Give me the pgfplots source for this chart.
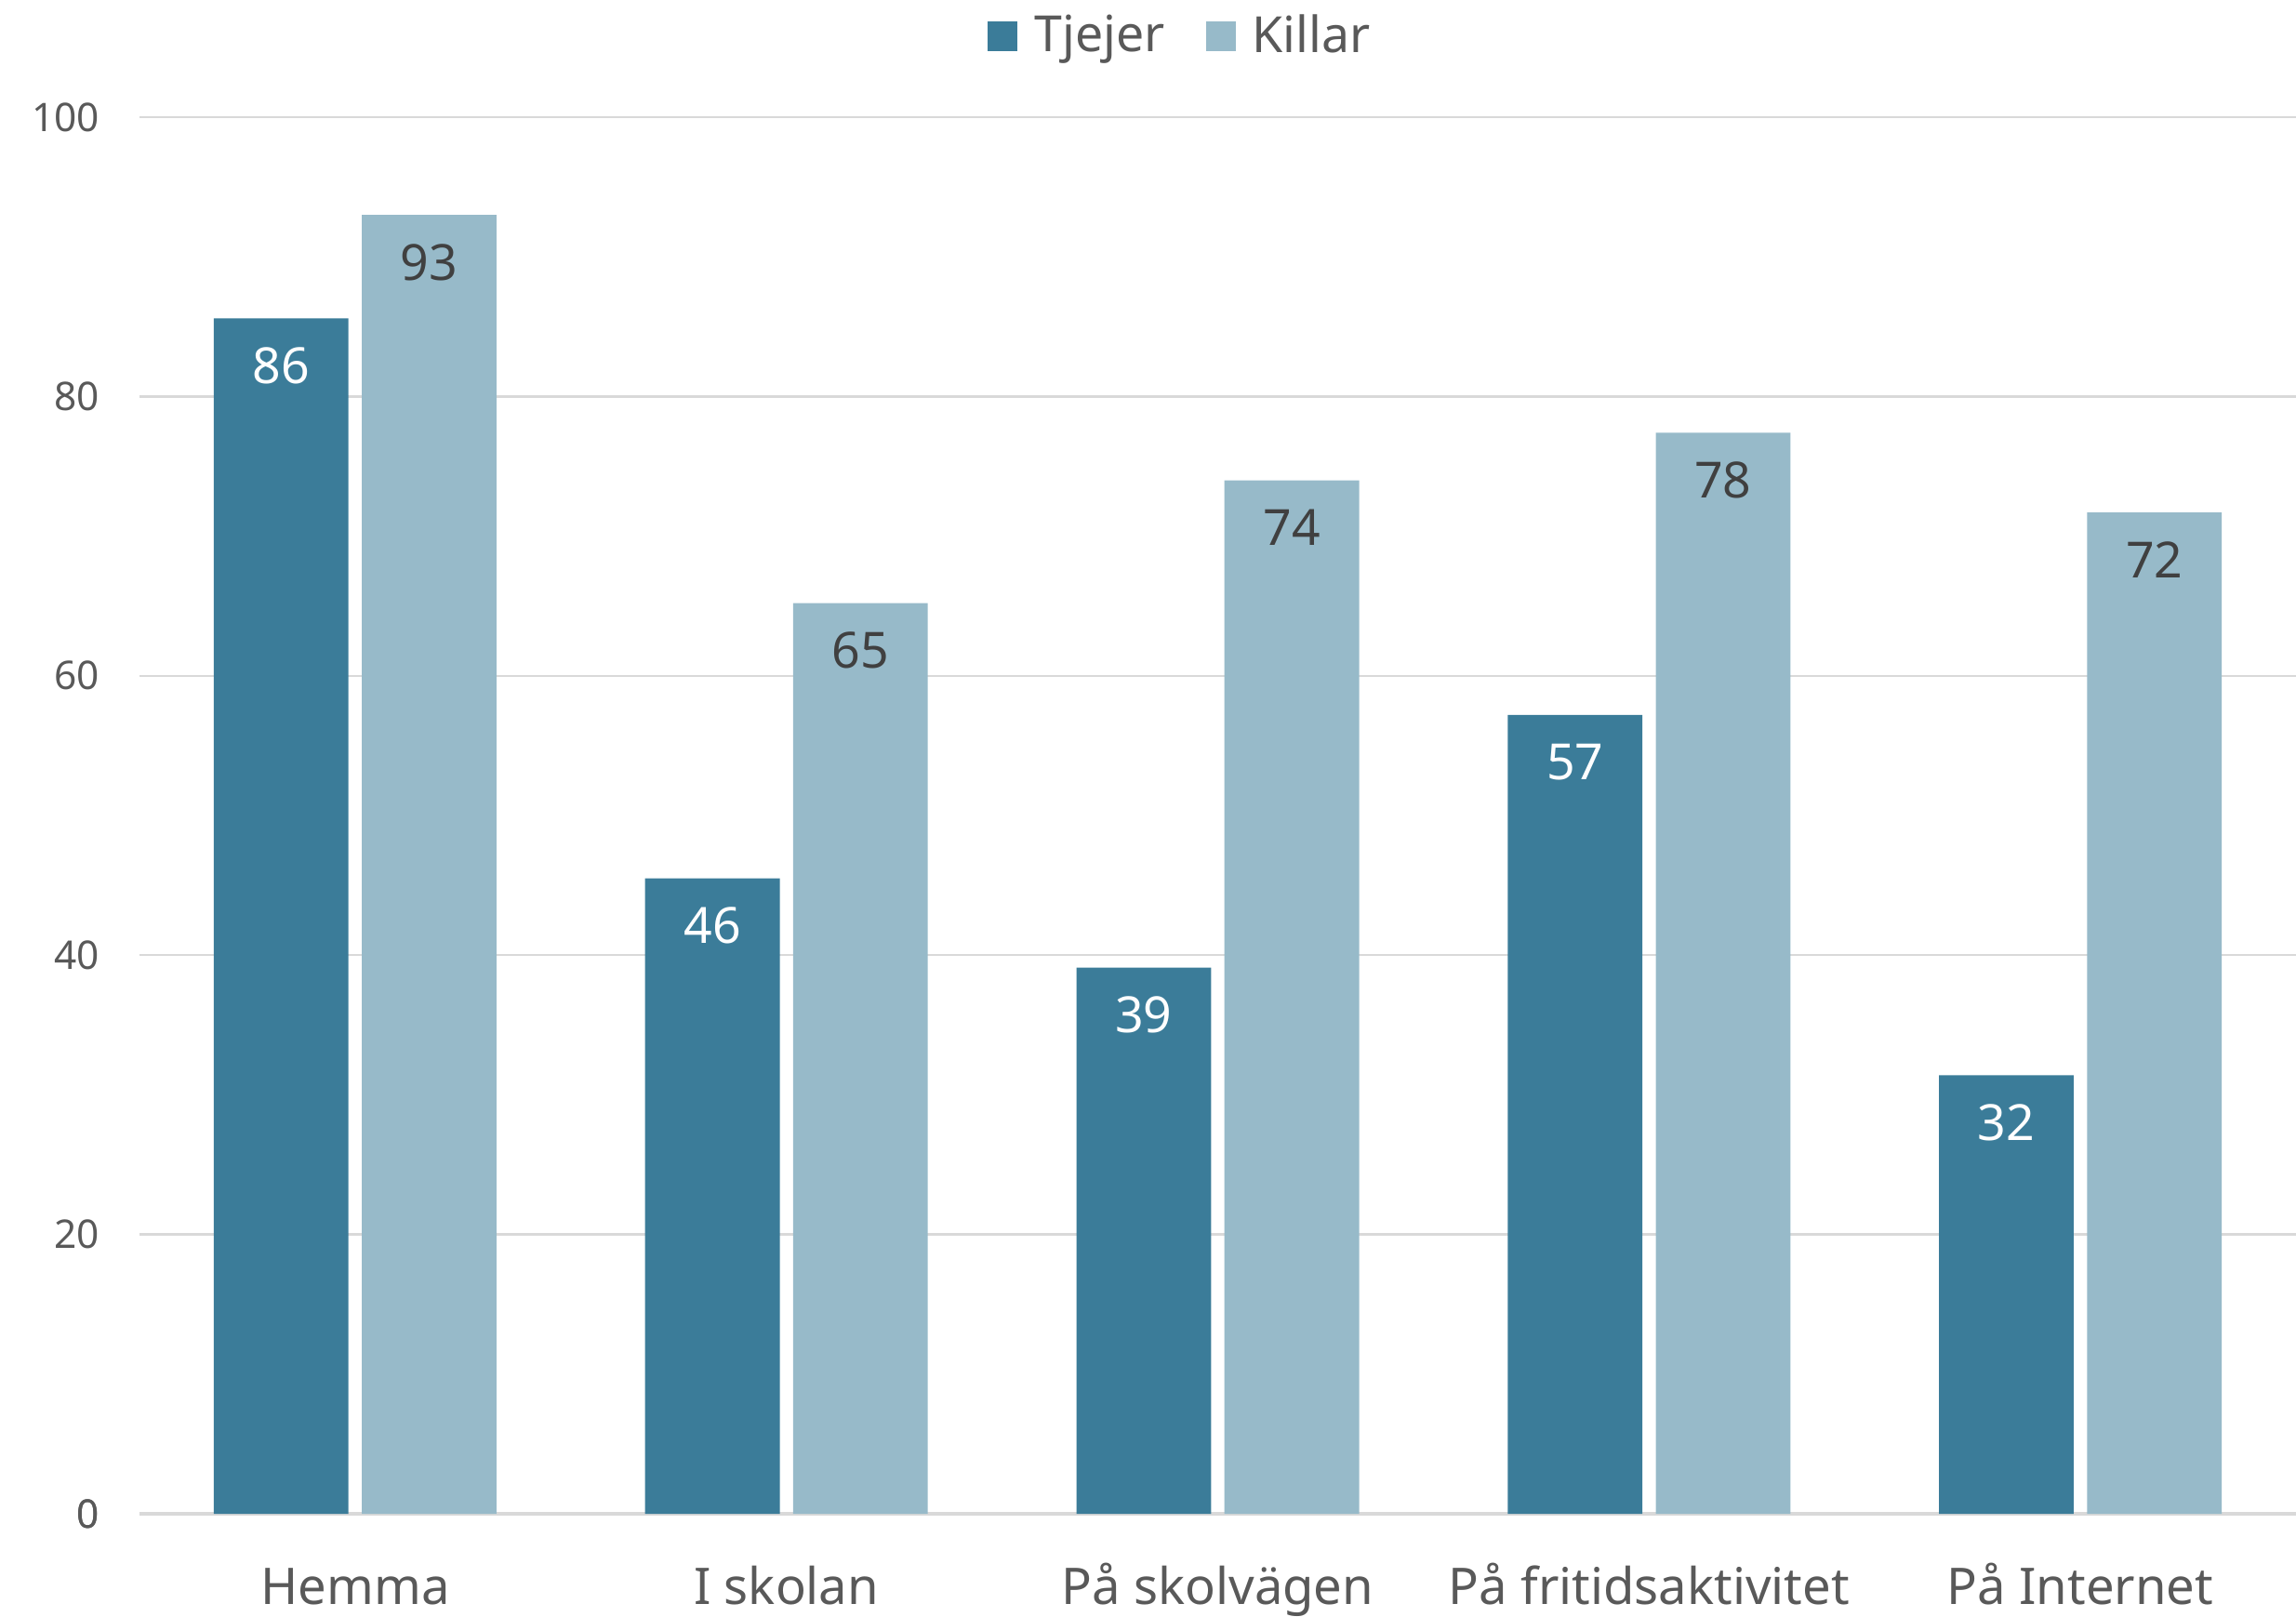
\documentclass[border=0pt]{standalone}
\usepackage{pgfplots}
\usepackage{pgfplotstable}
\pgfplotsset{compat=1.18}
\usepackage{fontspec}
\setmainfont{Noto Sans}
\definecolor{tj}{HTML}{3B7C99}
\definecolor{ki}{HTML}{97BAC9}
\definecolor{txt}{HTML}{595959}
\definecolor{grd}{HTML}{D9D9D9}
\pgfplotstableread{
x y lab
0 85.6 86
1 45.5 46
2 39.1 39
3 57.2 57
4 31.4 32
}\tjejer
\pgfplotstableread{
x y lab
0 93.0 93
1 65.2 65
2 74.0 74
3 77.4 78
4 71.7 72
}\killar
\begin{document}
\begin{tikzpicture}
\useasboundingbox (-37.5pt,-27.5pt) rectangle (579.75pt,407pt);
\begin{axis}[
  scale only axis,
  width=579.75pt, height=375.5pt,
  xmin=-0.5, xmax=4.5, ymin=0, ymax=100,
  axis line style={draw=none},
  axis x line*=bottom,
  ytick={0,20,...,100},
  xtick=data,
  xticklabels={Hemma, I skolan, På skolvägen, På fritidsaktivitet, På Internet},
  major tick length=0pt,
  ymajorgrids,
  grid style={grd, line width=0.6pt},
  extra y ticks={0},
  extra y tick style={grid style={grd,line width=0.8pt}},
  /pgf/number format/assume math mode=true,
  yticklabel style={font=\fontsize{10.6}{13}\selectfont, text=txt, anchor=east, inner sep=0pt, xshift=-10.6pt},
  xticklabel style={font=\fontsize{13.6}{16}\selectfont, text=txt, anchor=base, inner sep=0pt, yshift=-24.25pt},
  ybar, bar width=36.2pt,
  nodes near coords={\pgfplotspointmeta},
  point meta=explicit symbolic,
  every node near coord/.append style={font=\fontsize{13.4}{16}\selectfont, anchor=base, inner sep=0pt, yshift=-17.5pt},
  legend style={at={(0.4838,1.058)}, anchor=center, draw=none, fill=none,
    legend columns=2, font=\fontsize{13.4}{16}\selectfont, text=txt,
    /tikz/every odd column/.append style={column sep=2.5pt},
    /tikz/every even column/.append style={column sep=9pt}},
  legend image code/.code={\fill[#1] (0pt,-4pt) rectangle (8pt,4pt);},
]
\addplot[fill=tj, draw=none, bar shift=-19.9pt, nodes near coords style={text=white}] table[x=x,y=y,meta=lab]{\tjejer};
\addplot[fill=ki, draw=none, bar shift=19.9pt, nodes near coords style={text=black!75}] table[x=x,y=y,meta=lab]{\killar};
\legend{Tjejer, Killar}
\end{axis}
\end{tikzpicture}
\end{document}
